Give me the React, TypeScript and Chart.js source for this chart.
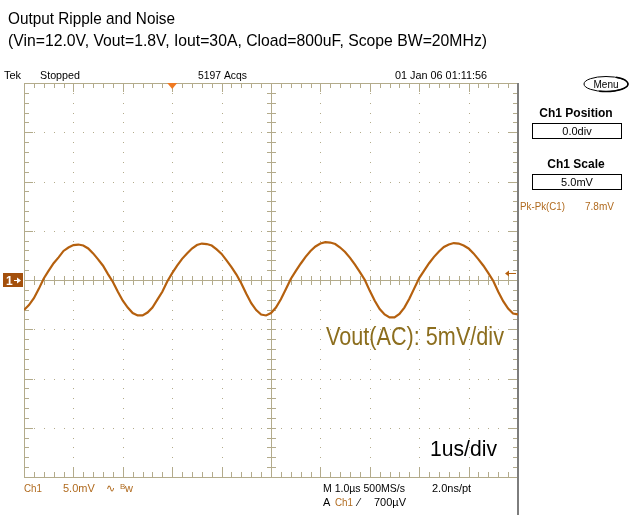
import React, { useEffect, useRef } from "react";
import { Chart, registerables } from "chart.js";

Chart.register(...registerables);

const TITLE_LINES = [
  "Output Ripple and Noise",
  "(Vin=12.0V, Vout=1.8V, Iout=30A, Cload=800uF, Scope BW=20MHz)",
];

// time axis: 1 us/div, 10 divisions, sample every 0.1 us
const TIME_START_US = -5;
const TIME_END_US = 5;
const TIME_STEP_US = 0.1;
// vertical: 5 mV/div, 8 divisions
const VOLT_MIN_MV = -20;
const VOLT_MAX_MV = 20;

const VOUT_MV = [
  -3.05, -2.55, -1.85, -0.9, 0.15, 0.95, 1.7, 2.3, 2.95, 3.3,
  3.55, 3.6, 3.5, 3.2, 2.7, 2.1, 1.45, 0.6, -0.2, -1.2,
  -2.1, -2.8, -3.35, -3.6, -3.6, -3.3, -2.8, -2.0, -1.2, -0.15,
  0.7, 1.45, 2.15, 2.7, 3.2, 3.55, 3.7, 3.65, 3.5, 3.1,
  2.65, 2.0, 1.3, 0.55, -0.35, -1.4, -2.35, -3.05, -3.5, -3.6,
  -3.35, -2.8, -1.95, -0.95, 0.1, 0.9, 1.65, 2.35, 2.95, 3.4,
  3.7, 3.85, 3.8, 3.65, 3.3, 2.85, 2.25, 1.55, 0.8, 0.0,
  -1.1, -2.1, -2.95, -3.5, -3.8, -3.8, -3.45, -2.8, -1.9, -0.85,
  0.2, 0.95, 1.7, 2.35, 2.9, 3.35, 3.6, 3.75, 3.7, 3.5,
  3.2, 2.7, 2.1, 1.45, 0.7, -0.1, -1.2, -2.15, -2.9, -3.4,
  -3.5,
];

const HEADER_TEXTS = ["Tek", "Stopped", "5197 Acqs", "01 Jan 06 01:11:56"];
const SIDE_TEXTS = ["Menu", "Ch1 Position", "0.0div", "Ch1 Scale", "5.0mV", "Pk-Pk(C1)", "7.8mV"];
const FOOT_TEXTS = ["Ch1", "5.0mV", "M 1.0µs 500MS/s", "2.0ns/pt", "A", "Ch1", "700µV"];
const NOTE_VOLT = "Vout(AC): 5mV/div";
const NOTE_TIME = "1us/div";

const TRACE = "#b5600e";
const GRID = "#b3ab8b";
const BROWN = "#b06a1e";
const FONT = "'Liberation Sans', Arial, sans-serif";

const graticule = {
  id: "graticule",
  beforeDatasetsDraw(chart: any) {
    const { ctx, chartArea, scales } = chart;
    const { left, right, top, bottom } = chartArea;
    const xs = scales.x;
    const ys = scales.y;
    ctx.save();
    ctx.fillStyle = GRID;
    // dotted division lines
    for (let k = 1; k < 10; k++) {
      if (k === 5) continue;
      const px = Math.round(xs.getPixelForValue(TIME_START_US + k));
      for (let m = 1; m < 40; m++) {
        const py = Math.round(ys.getPixelForValue(VOLT_MIN_MV + m));
        ctx.fillRect(px, py, 1, 1);
      }
    }
    for (let k = 1; k < 8; k++) {
      if (k === 4) continue;
      const py = Math.round(ys.getPixelForValue(VOLT_MIN_MV + 5 * k));
      for (let m = 1; m < 50; m++) {
        const px = Math.round(xs.getPixelForValue(TIME_START_US + m * 0.2));
        ctx.fillRect(px, py, 1, 1);
      }
    }
    // center crosshair
    const cx = Math.round(xs.getPixelForValue(0));
    const cy = Math.round(ys.getPixelForValue(0));
    ctx.fillRect(cx, top, 1, bottom - top);
    ctx.fillRect(left, cy, right - left, 1);
    for (let m = 1; m < 50; m++) {
      const px = Math.round(xs.getPixelForValue(TIME_START_US + m * 0.2));
      ctx.fillRect(px, cy - 4, 1, 9);
      const major = m % 5 === 0;
      ctx.fillRect(px, top, 1, major ? 9 : 5);
      ctx.fillRect(px, bottom - (major ? 9 : 5), 1, major ? 9 : 5);
    }
    for (let m = 1; m < 40; m++) {
      const py = Math.round(ys.getPixelForValue(VOLT_MIN_MV + m));
      ctx.fillRect(cx - 4, py, 9, 1);
      const major = m % 5 === 0;
      ctx.fillRect(left, py, major ? 9 : 5, 1);
      ctx.fillRect(right - (major ? 9 : 5), py, major ? 9 : 5, 1);
    }
    // border
    ctx.fillRect(left, top, right - left, 1);
    ctx.fillRect(left, bottom, right - left, 1);
    ctx.fillRect(left, top, 1, bottom - top);
    ctx.fillStyle = "#7d7d7d";
    ctx.fillRect(right - 1, top, 2, 515 - top);
    ctx.restore();
  },
  afterDraw(chart: any) {
    const { ctx, chartArea, scales } = chart;
    const { left, right, top } = chartArea;
    const xs = scales.x;
    const ys = scales.y;
    ctx.save();
    ctx.textBaseline = "alphabetic";
    ctx.textAlign = "left";
    // title
    ctx.fillStyle = "#000";
    ctx.font = `17px ${FONT}`;
    ctx.fillText(TITLE_LINES[0], 8, 24, 167);
    ctx.fillText(TITLE_LINES[1], 8, 46, 479);
    // header row
    ctx.font = `11px ${FONT}`;
    ctx.fillText(HEADER_TEXTS[0], 4, 79, 18);
    ctx.fillText(HEADER_TEXTS[1], 40, 79, 40);
    ctx.fillText(HEADER_TEXTS[2], 198, 79, 49);
    ctx.fillText(HEADER_TEXTS[3], 395, 79, 92);
    // trigger position marker
    const tx = xs.getPixelForValue(-2);
    ctx.fillStyle = "#f07a22";
    ctx.beginPath();
    ctx.moveTo(tx - 5, top);
    ctx.lineTo(tx + 5, top);
    ctx.lineTo(tx, top + 6);
    ctx.closePath();
    ctx.fill();
    // channel marker
    const cy = ys.getPixelForValue(0);
    ctx.fillStyle = "#a4500c";
    ctx.fillRect(3, cy - 7, 20, 14);
    ctx.fillStyle = "#fff";
    ctx.font = `bold 12px ${FONT}`;
    ctx.fillText("1", 6, cy + 5);
    ctx.fillRect(14, cy, 6, 1);
    ctx.beginPath();
    ctx.moveTo(21, cy + 0.5);
    ctx.lineTo(17, cy - 2.5);
    ctx.lineTo(17, cy + 3.5);
    ctx.closePath();
    ctx.fill();
    // trigger level arrow
    const ly = Math.round(ys.getPixelForValue(0.7)) - 0;
    ctx.fillStyle = "#b5600e";
    ctx.fillRect(508, ly, 8, 1);
    ctx.beginPath();
    ctx.moveTo(505, ly + 0.5);
    ctx.lineTo(509, ly - 2.5);
    ctx.lineTo(509, ly + 3.5);
    ctx.closePath();
    ctx.fill();
    // side panel
    ctx.strokeStyle = "#000";
    ctx.lineWidth = 1;
    ctx.beginPath();
    ctx.ellipse(606, 84, 22, 7.5, 0, 0, Math.PI * 2);
    ctx.stroke();
    ctx.lineWidth = 1.5;
    ctx.beginPath();
    ctx.ellipse(606, 84, 22, 7.5, 0, -Math.PI * 0.35, Math.PI * 0.6);
    ctx.stroke();
    ctx.lineWidth = 1;
    ctx.fillStyle = "#000";
    ctx.textAlign = "center";
    ctx.font = `10px ${FONT}`;
    ctx.fillText(SIDE_TEXTS[0], 606, 88, 32);
    ctx.font = `bold 12px ${FONT}`;
    ctx.fillText(SIDE_TEXTS[1], 576, 117, 78);
    ctx.fillText(SIDE_TEXTS[3], 576, 168, 62);
    ctx.strokeRect(532.5, 123.5, 89, 15);
    ctx.strokeRect(532.5, 174.5, 89, 15);
    ctx.font = `11px ${FONT}`;
    ctx.fillText(SIDE_TEXTS[2], 577, 135, 34);
    ctx.fillText(SIDE_TEXTS[4], 577, 186, 34);
    ctx.textAlign = "left";
    ctx.fillStyle = BROWN;
    ctx.fillText(SIDE_TEXTS[5], 520, 210, 45);
    ctx.fillText(SIDE_TEXTS[6], 585, 210, 29);
    // footer
    ctx.fillText(FOOT_TEXTS[0], 24, 492, 18);
    ctx.fillText(FOOT_TEXTS[1], 63, 492, 32);
    ctx.fillText("∿", 106, 492);
    ctx.font = `8px ${FONT}`;
    ctx.fillText("B", 120, 489);
    ctx.font = `11px ${FONT}`;
    ctx.fillText("w", 125, 492);
    ctx.fillStyle = "#000";
    ctx.fillText(FOOT_TEXTS[2], 323, 492, 82);
    ctx.fillText(FOOT_TEXTS[3], 432, 492, 40);
    ctx.fillText(FOOT_TEXTS[4], 323, 506, 8);
    ctx.fillStyle = BROWN;
    ctx.fillText(FOOT_TEXTS[5], 335, 506, 18);
    ctx.fillStyle = "#000";
    ctx.fillText("⁄", 358, 506);
    ctx.fillText(FOOT_TEXTS[6], 374, 506, 32);
    // annotations
    ctx.fillStyle = "#8c6e1e";
    ctx.font = `25px ${FONT}`;
    ctx.fillText(NOTE_VOLT, 326, 345, 178);
    ctx.fillStyle = "#000";
    ctx.font = `22px ${FONT}`;
    ctx.fillText(NOTE_TIME, 430, 456, 67);
    ctx.restore();
  },
};

export default function App() {
  const canvasRef = useRef<HTMLCanvasElement | null>(null);

  useEffect(() => {
    document.body.style.margin = "0";
    document.body.style.background = "#fff";
    const canvas = canvasRef.current;
    if (!canvas) return;
    const points = VOUT_MV.map((v, i) => ({ x: TIME_START_US + i * TIME_STEP_US, y: v }));
    const chart = new Chart(canvas, {
      type: "line",
      data: {
        datasets: [
          {
            data: points,
            borderColor: TRACE,
            borderWidth: 2.2,
            pointRadius: 0,
            tension: 0,
          },
        ],
      },
      options: {
        responsive: false,
        animation: false,
        events: [],
        layout: { padding: { left: 24, top: 83, right: 113, bottom: 44 } },
        plugins: { legend: { display: false }, tooltip: { enabled: false }, title: { display: false } },
        scales: {
          x: { type: "linear", min: TIME_START_US, max: TIME_END_US, display: false },
          y: { type: "linear", min: VOLT_MIN_MV, max: VOLT_MAX_MV, display: false },
        },
      },
      plugins: [graticule],
    });
    return () => chart.destroy();
  }, []);

  return (
    <div style={{ width: 631, height: 521, background: "#fff" }}>
      <canvas ref={canvasRef} width={631} height={521} style={{ display: "block" }} />
    </div>
  );
}
